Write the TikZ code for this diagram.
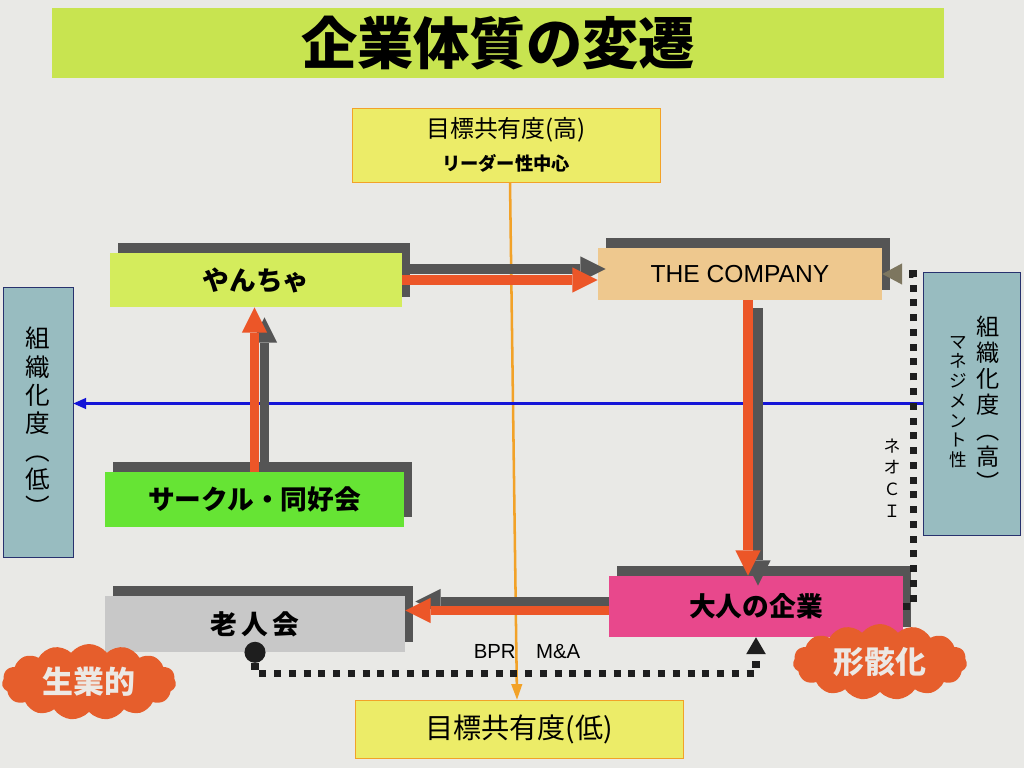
\documentclass[tikz,border=0pt]{standalone}
\usepackage{fontspec}
\setmainfont{Liberation Sans}
\newfontfamily\jp{Noto Sans CJK JP}
\usetikzlibrary{arrows.meta, calc, shadows, shapes.symbols}
\definecolor{slidebg}{RGB}{233,233,230}
\definecolor{titlegreen}{RGB}{200,228,80}
\definecolor{goalyellow}{RGB}{236,236,104}
\definecolor{goalorange}{RGB}{242,162,40}
\definecolor{yanchagreen}{RGB}{212,236,92}
\definecolor{companytan}{RGB}{238,200,142}
\definecolor{circlegreen}{RGB}{102,228,52}
\definecolor{rojingray}{RGB}{200,200,200}
\definecolor{otonapink}{RGB}{232,72,140}
\definecolor{sideteal}{RGB}{152,188,192}
\definecolor{sideedge}{RGB}{40,50,110}
\definecolor{shadowgray}{RGB}{85,85,85}
\definecolor{flowred}{RGB}{236,86,40}
\definecolor{axisblue}{RGB}{20,20,215}
\definecolor{cloudred}{RGB}{230,94,44}
\definecolor{cloudtext}{RGB}{236,232,228}
\definecolor{dotblack}{RGB}{30,30,30}
\definecolor{tipolive}{RGB}{125,118,95}
\tikzset{
  stagebox/.style={
    rectangle,
    inner sep=0pt,
    font=\jp\bfseries\fontsize{19}{21}\selectfont,
    drop shadow={shadow xshift=6pt, shadow yshift=7pt, fill=shadowgray, opacity=1}
  },
  sidebox/.style={
    rectangle,
    draw=sideedge, line width=0.5pt, fill=sideteal,
    align=center, inner sep=0pt
  },
  goalbox/.style={
    rectangle,
    draw=goalorange, line width=0.6pt, fill=goalyellow,
    align=center, inner sep=0pt
  },
  flow/.style={
    draw=flowred, line width=6.5pt,
    -{Triangle[length=18pt, width=18pt, line width=0pt]}
  },
  flowback/.style={flow, draw=shadowgray},
  dotline/.style={
    draw=dotblack, line width=5pt,
    dash pattern=on 5pt off 5.5pt
  },
  cloudtag/.style={
    cloud, cloud puffs=15, cloud puff arc=105, aspect=2.3,
    fill=cloudred, inner sep=0pt,
    minimum width=4.35cm, minimum height=1.9cm,
    text=cloudtext, font=\jp\bfseries\fontsize{22}{24}\selectfont
  }
}

\begin{document}
\begin{tikzpicture}[
    x=0.025cm, y=-0.025cm,
    vtext/.style={align=center, inner sep=0pt},
    goalline/.style={draw=goalorange, line width=1.8pt,
        -{Triangle[length=11pt, width=8pt, line width=0pt]}},
    axisline/.style={draw=axisblue, line width=2pt,
        -{Triangle[length=9pt, width=8pt, line width=0pt]}}
]
\fill[slidebg] (0,0) rectangle (1024,768);

\node[rectangle, fill=titlegreen, minimum width=22.3cm, minimum height=1.75cm,
      font=\jp\bfseries\fontsize{40}{44}\selectfont] (title) at (498,43) {企業体質の変遷};

\node[goalbox, minimum width=7.7cm, minimum height=1.85cm, font=\jp\fontsize{17}{22}\selectfont]
    (goalhi) at (506,145) {目標共有度(高)\\[1pt]{\bfseries\fontsize{13}{15}\selectfont リーダー性中心}};
\node[goalbox, minimum width=8.2cm, minimum height=1.45cm, font=\jp\fontsize{20}{22}\selectfont]
    (goallo) at (519,729) {目標共有度(低)};

\node[sidebox, minimum width=1.75cm, minimum height=6.75cm, font=\jp\fontsize{17.5}{20}\selectfont]
    (lowside) at (38,422) {組\\織\\化\\度\\︵\\低\\︶};
\node[sidebox, minimum width=2.425cm, minimum height=6.575cm] (highside) at (971.5,403.5) {};
\node[vtext, font=\jp\fontsize{16.5}{18.5}\selectfont] (highsidetxt) at (988,404) {組\\織\\化\\度\\︵\\高\\︶};
\node[vtext, font=\jp\fontsize{12.5}{14}\selectfont] (mgmttxt) at (958,402) {マ\\ネ\\ジ\\メ\\ン\\ト\\性};

\node[stagebox, fill=yanchagreen, minimum width=7.3cm, minimum height=1.35cm] (yancha) at (256,280) {やんちゃ};
\node[stagebox, fill=companytan, minimum width=7.1cm, minimum height=1.3cm,
      font=\fontsize{17.5}{20}\selectfont] (company) at (740,274) {THE COMPANY};
\node[stagebox, fill=circlegreen, minimum width=7.475cm, minimum height=1.375cm] (circle) at (254.5,499.5) {サークル・同好会};
\node[stagebox, fill=rojingray, minimum width=7.5cm, minimum height=1.4cm] (rojin) at (255,624) {老\,人\,会};
\node[stagebox, fill=otonapink, minimum width=7.35cm, minimum height=1.525cm] (otona) at (756,606.5) {大人の企業};

\draw[goalline] ($(goalhi.south)+(4,0)$) -- ($(goallo.north)+(-2,0)$);
\draw[axisline] (highside.west) -- (highside.west -| lowside.east);

\draw[flowback] ($(yancha.east)+(8,-11)$) -- ($(yancha.east -| company.west)+(8,-11)$);
\draw[flow] (yancha.east) -- (yancha.east -| company.west);

\draw[flowback] ($(circle.north)+(10,0)$) -- ($(circle.north |- yancha.south)+(10,10)$);
\draw[flow] (circle.north) -- (circle.north |- yancha.south);

\draw[flowback] ($(company.south)+(18,8)$) -- ($(company.south |- otona.north)+(18,10)$);
\draw[flow] ($(company.south)+(8,0)$) -- ($(company.south |- otona.north)+(8,0)$);

\draw[flowback] ($(otona.west)+(0,-5)$) -- ($(otona.west -| rojin.east)+(10,-5)$);
\draw[flow] ($(otona.west)+(0,4)$) -- ($(otona.west -| rojin.east)+(0,4)$);

\draw[dotline, shorten <=-7.5pt,
      {Circle[length=15pt, line width=0pt]}-{Triangle[length=12pt, width=14pt, line width=0pt]}]
    (rojin.south) -- ++(0,21) -| (otona.south);
\draw[dotline, -{Triangle[length=14pt, width=15pt, line width=0pt, color=tipolive]}]
    (otona.east) -- ++(10,0) |- (company.east);

\node[font=\fontsize{14.5}{16}\selectfont] (bpr) at (527,652) {BPR\quad M\&A};
\node[vtext, font=\jp\fontsize{12}{15.5}\selectfont] (neoci) at (892,478) {ネ\\オ\\Ｃ\\Ｉ};

\node[cloudtag] (seigyo) at (89,682) {生業的};
\node[cloudtag] (keigai) at (880,662) {形骸化};
\end{tikzpicture}
\end{document}
